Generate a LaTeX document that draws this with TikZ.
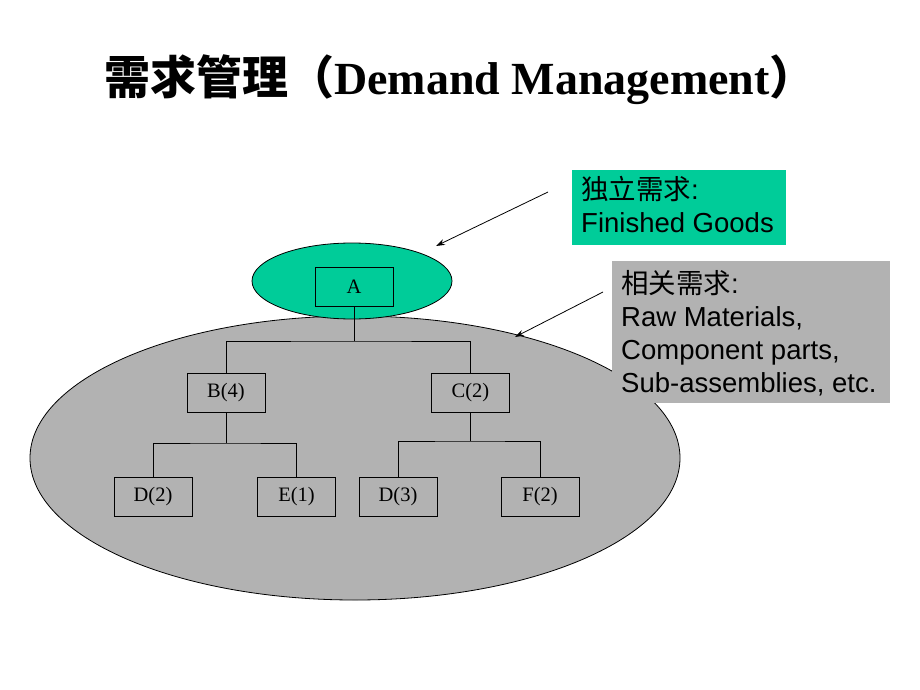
\documentclass[tikz,border=0pt]{standalone}
\usepackage{fontspec}
\setmainfont{Liberation Serif}
\setsansfont{Liberation Sans}
\newfontfamily\cjk{Noto Sans CJK SC}
\usetikzlibrary{arrows.meta,shapes.geometric}
\definecolor{tealgreen}{RGB}{0,204,153}
\definecolor{lgray}{RGB}{178,178,178}
\begin{document}
\begin{tikzpicture}[x=1pt,y=-1pt,
  item/.style={draw=black,line width=0.8pt,fill=lgray,minimum width=78pt,minimum height=39pt,inner sep=0pt,font=\fontsize{20.5}{22}\selectfont},
  link/.style={line width=0.8pt},
  pointer/.style={line width=0.8pt,-{Stealth[length=9pt,width=6pt]}},
  note/.style={anchor=north west,align=left,inner sep=0pt,font=\sffamily\fontsize{27.5}{33}\selectfont,text=black}]
\useasboundingbox[fill=white] (0,0) rectangle (920,690);
% title
\node[anchor=base,inner sep=0pt] (title) at (460,95) {\fontsize{46}{50}\selectfont\bfseries{\cjk 需求管理（}Demand Management{\cjk ）}};
% big ellipse
\node[ellipse,draw=black,line width=0.8pt,fill=lgray,minimum width=650pt,minimum height=284pt,inner sep=0pt] (big) at (355,458) {};
% small ellipse
\node[ellipse,draw=black,line width=0.8pt,fill=tealgreen,minimum width=200pt,minimum height=76pt,inner sep=0pt] (small) at (352,281) {};
% boxes
\node[item,fill=tealgreen] (A) at (354,287) {A};
\node[item] (B) at (226,392.5) {B(4)};
\node[item] (C) at (470.5,392.5) {C(2)};
\node[item] (D2) at (153,497) {D(2)};
\node[item] (E1) at (296.5,497) {E(1)};
\node[item] (D3) at (398,497) {D(3)};
\node[item] (F2) at (540,497) {F(2)};
% tree links
\coordinate (j1) at (354,341);
\coordinate (j2) at (226,443);
\coordinate (j3) at (470.5,441);
\draw[link] (A.south) -- (j1);
\draw[link] (B.north) |- (j1) -| (C.north);
\draw[link] (B.south) -- (j2);
\draw[link] (D2.north) |- (j2) -| (E1.north);
\draw[link] (C.south) -- (j3);
\draw[link] (D3.north) |- (j3) -| (F2.north);
% notes
\fill[tealgreen] (572,170) rectangle (786,245);
\node[note] (n1) at (581,176) {{\cjk 独立需求}:\\Finished Goods};
\fill[lgray] (612,261) rectangle (890,403);
\node[note] (n2) at (621,270) {{\cjk 相关需求}:\\Raw Materials,\\Component parts,\\Sub-assemblies, etc.};
% pointers
\coordinate (p1) at (548,192);
\coordinate (q1) at (436,246);
\coordinate (p2) at (603,292);
\coordinate (q2) at (515,337);
\draw[pointer] (p1) -- (q1);
\draw[pointer] (p2) -- (q2);
\end{tikzpicture}
\end{document}
